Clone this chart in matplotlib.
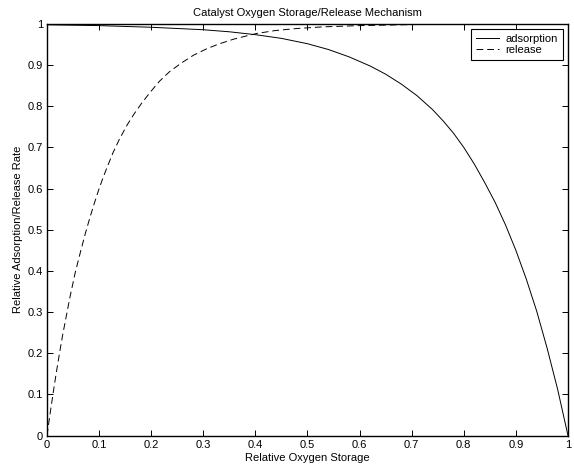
import matplotlib.pyplot as plt

# values
ads_x = [0.0, 0.1, 0.2, 0.3, 0.35, 0.4, 0.45, 0.5, 0.54, 0.58, 0.62, 0.65,
         0.68, 0.71, 0.74, 0.76, 0.78, 0.80, 0.82, 0.84, 0.86, 0.88, 0.90,
         0.92, 0.94, 0.96, 0.98, 1.0]
ads_y = [0.998, 0.996, 0.992, 0.986, 0.981, 0.974, 0.965, 0.952, 0.938, 0.920,
         0.898, 0.878, 0.854, 0.826, 0.792, 0.765, 0.735, 0.700, 0.660, 0.615,
         0.567, 0.512, 0.450, 0.380, 0.302, 0.212, 0.113, 0.0]

rel_x = [0.0, 0.006, 0.012, 0.018, 0.024, 0.030, 0.037, 0.044, 0.054, 0.064,
         0.074, 0.082, 0.090, 0.099, 0.108, 0.117, 0.127, 0.139, 0.154, 0.168,
         0.182, 0.198, 0.216, 0.236, 0.259, 0.281, 0.307, 0.329, 0.358, 0.383,
         0.403, 0.438, 0.48, 0.53, 0.6, 0.7, 0.8, 0.9, 1.0]
rel_y = [0.0, 0.054, 0.105, 0.154, 0.20, 0.244, 0.29, 0.336, 0.395, 0.445,
         0.493, 0.528, 0.561, 0.596, 0.628, 0.657, 0.688, 0.720, 0.755, 0.783,
         0.808, 0.834, 0.861, 0.885, 0.906, 0.924, 0.940, 0.951, 0.963, 0.971,
         0.977, 0.984, 0.989, 0.993, 0.996, 0.9985, 0.9995, 1.0, 1.0]

ticks = [0, 0.1, 0.2, 0.3, 0.4, 0.5, 0.6, 0.7, 0.8, 0.9, 1]
tick_labels = ['0', '0.1', '0.2', '0.3', '0.4', '0.5', '0.6', '0.7', '0.8', '0.9', '1']

plt.rcParams['font.family'] = ['Liberation Sans', 'DejaVu Sans']
plt.rcParams['font.size'] = 8

fig = plt.figure(figsize=(5.74, 4.70), dpi=100)
ax = fig.add_axes([0.0819, 0.0734, 0.9076, 0.8756])

ax.plot(ads_x, ads_y, color='black', lw=0.7, label='adsorption')
ax.plot(rel_x, rel_y, color='black', lw=0.7, linestyle=(0, (7, 4)), label='release')

ax.set_xlim(0, 1)
ax.set_ylim(0, 1)
ax.set_xticks(ticks)
ax.set_xticklabels(tick_labels)
ax.set_yticks(ticks)
ax.set_yticklabels(tick_labels)
ax.tick_params(direction='in', length=4, width=0.7, top=True, right=True, pad=3)
for s in ax.spines.values():
    s.set_linewidth(1.0)

ax.set_title('Catalyst Oxygen Storage/Release Mechanism', fontsize=8, pad=6)
ax.set_xlabel('Relative Oxygen Storage', labelpad=2.5)
ax.set_ylabel('Relative Adsorption/Release Rate', labelpad=3)

leg = ax.legend(loc='upper right', fancybox=False, edgecolor='black', framealpha=1,
                borderpad=0.45, handlelength=2.1, handletextpad=0.6, labelspacing=0.1,
                borderaxespad=0.45, fontsize=8)
leg.get_frame().set_linewidth(0.8)

fig.savefig('out.png', dpi=100)
